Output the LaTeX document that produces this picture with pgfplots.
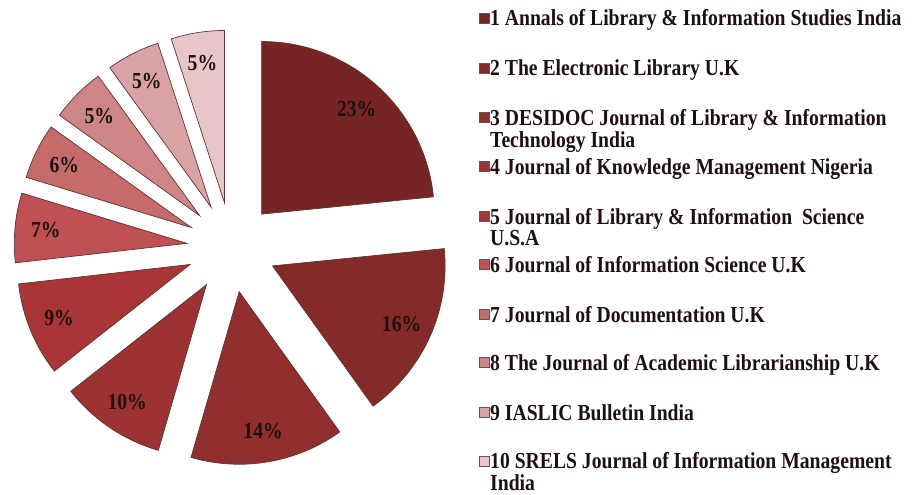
\documentclass[border=0pt]{standalone}
\usepackage{fontspec}
\usepackage{pgfplots}
\usepackage{pgfplotstable}
\pgfplotsset{compat=1.18}
\setmainfont{Liberation Serif}[FakeStretch=0.86]

\definecolor{c0}{HTML}{772424}
\definecolor{c1}{HTML}{852A2A}
\definecolor{c2}{HTML}{912F2F}
\definecolor{c3}{HTML}{9C3232}
\definecolor{c4}{HTML}{AA3536}
\definecolor{c5}{HTML}{BF5053}
\definecolor{c6}{HTML}{C66A6B}
\definecolor{c7}{HTML}{CD8586}
\definecolor{c8}{HTML}{D9A3A5}
\definecolor{c9}{HTML}{E8C5C8}
\definecolor{edgecol}{HTML}{5A3434}
\definecolor{labcol}{HTML}{1E1010}

% share = angular share of each slice, pct = printed label
\pgfplotstableread{
idx share pct
0 23.4 23
1 16.7 16
2 14.4 14
3 9.9 10
4 8.8 9
5 6.5 7
6 5.2 6
7 5.1 5
8 5.0 5
9 5.0 5
}\piedata

\newcommand\G[2]{\csname #1#2\endcsname}

\begin{document}
\def\cum{0}
\pgfplotsforeachungrouped \i in {0,...,9}{%
  \pgfplotstablegetelem{\i}{share}\of\piedata
  \let\v\pgfplotsretval
  \pgfplotstablegetelem{\i}{pct}\of\piedata
  \expandafter\xdef\csname lb\i\endcsname{\pgfplotsretval}%
  \pgfmathsetmacro\st{90-3.6*\cum}%
  \pgfmathsetmacro\en{\st-3.6*\v}%
  \pgfmathsetmacro\md{(\st+\en)/2}%
  \pgfmathsetmacro\px{230+45*cos(\md)}%
  \pgfmathsetmacro\py{248+45*sin(\md)}%
  \pgfmathsetmacro\lx{\px+142*cos(\md)}%
  \pgfmathsetmacro\ly{\py+142*sin(\md)}%
  \expandafter\xdef\csname st\i\endcsname{\st}%
  \expandafter\xdef\csname en\i\endcsname{\en}%
  \expandafter\xdef\csname px\i\endcsname{\px}%
  \expandafter\xdef\csname py\i\endcsname{\py}%
  \expandafter\xdef\csname lx\i\endcsname{\lx}%
  \expandafter\xdef\csname ly\i\endcsname{\ly}%
  \pgfmathsetmacro\cum{\cum+\v}%
}%
\begin{tikzpicture}
\begin{axis}[
  x=1bp, y=1bp,
  xmin=0, xmax=914, ymin=0, ymax=496,
  hide axis, clip=false,
]
\pgfplotsinvokeforeach{0,...,9}{
  \fill[c#1, draw=edgecol, line width=0.7bp, line join=miter]
    (axis cs:\G{px}{#1},\G{py}{#1}) -- ++(\G{st}{#1}:173bp)
    arc[start angle=\G{st}{#1}, end angle=\G{en}{#1}, radius=173bp] -- cycle;
  \node[text=labcol, font=\bfseries\fontsize{23}{23}\selectfont, inner sep=0pt]
    at (axis cs:\G{lx}{#1},\G{ly}{#1}) {\G{lb}{#1}\%};
}
% legend
\newcommand\legsq[2]{%
  \fill[#1, draw=gray!70!black, line width=0.5bp]
    (axis cs:478,{496-#2-5}) rectangle (axis cs:488,{496-#2+5});}
\newcommand\legtx[2]{%
  \node[anchor=base west, inner sep=0pt, text=labcol,
        font=\bfseries\fontsize{23}{23}\selectfont]
    at (axis cs:489,{496-#1-8}) {#2};}
\legsq{c0}{18}  \legtx{18}{1 Annals of Library \& Information Studies India}
\legsq{c1}{68}  \legtx{68}{2 The Electronic Library U.K}
\legsq{c2}{118} \legtx{118}{3 DESIDOC Journal of Library \& Information}
                \legtx{140}{Technology India}
\legsq{c3}{167} \legtx{167}{4 Journal of Knowledge Management Nigeria}
\legsq{c4}{217} \legtx{217}{5 Journal of Library \& Information \ Science}
                \legtx{238}{U.S.A}
\legsq{c5}{265} \legtx{265}{6 Journal of Information Science U.K}
\legsq{c6}{315} \legtx{315}{7 Journal of Documentation U.K}
\legsq{c7}{363} \legtx{363}{8 The Journal of Academic Librarianship U.K}
\legsq{c8}{413} \legtx{413}{9 IASLIC Bulletin India}
\legsq{c9}{462} \legtx{462}{10 SRELS Journal of Information Management}
                \legtx{484}{India}
\end{axis}
\pgfresetboundingbox
\useasboundingbox (0,0) rectangle (914bp,496bp);
\end{tikzpicture}
\end{document}
